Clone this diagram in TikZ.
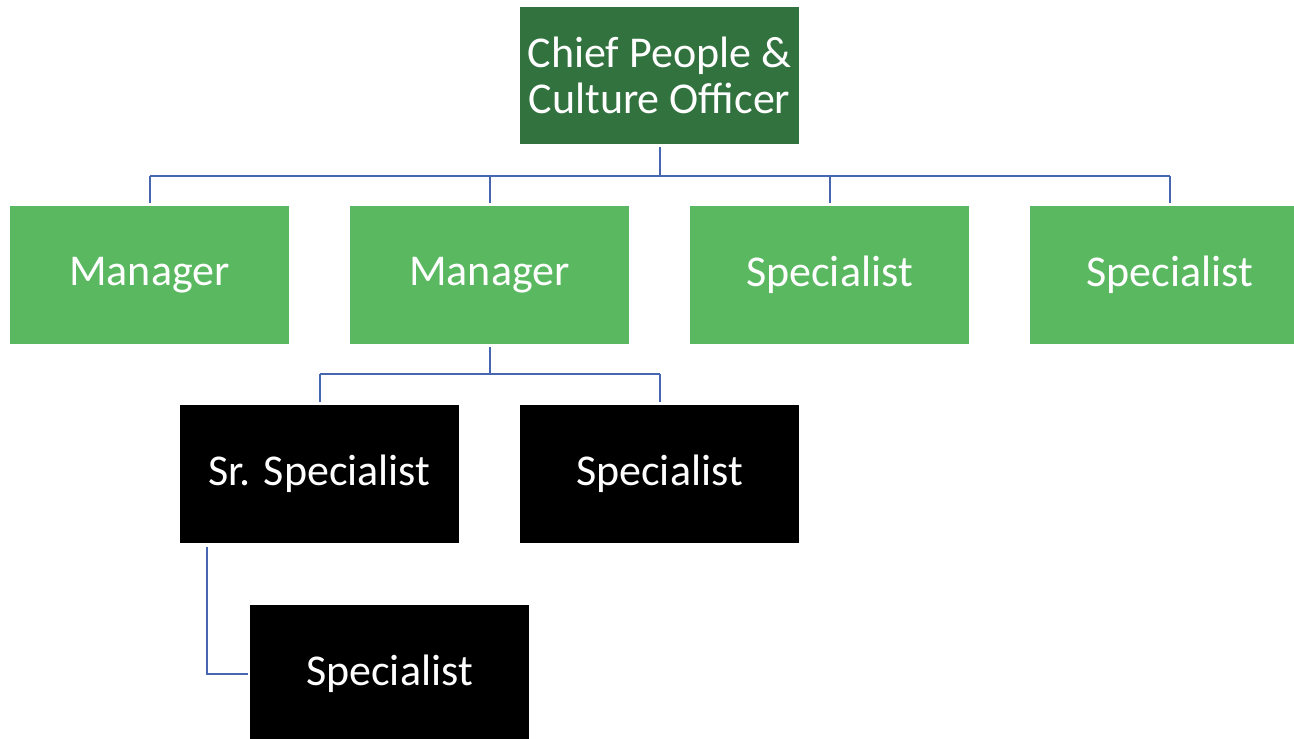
\documentclass[tikz,border=0pt]{standalone}
\usepackage{fontspec}
\setmainfont{Carlito}
\definecolor{darkgreen}{RGB}{49,114,63}
\definecolor{lightgreen}{RGB}{90,184,96}
\definecolor{linkblue}{RGB}{70,102,178}
\begin{document}
\begin{tikzpicture}[x=1pt,y=-1pt,
  box/.style={rectangle, minimum width=279pt, minimum height=138pt, inner sep=0pt,
    text=white, align=center, font=\fontsize{44}{46}\selectfont},
  topbox/.style={box, fill=darkgreen},
  greenbox/.style={box, fill=lightgreen},
  blackbox/.style={box, fill=black},
  conn/.style={draw=linkblue, line width=2pt}]
\useasboundingbox (0,0) rectangle (1294,739);
\clip (0,0) rectangle (1294,739);
\node[topbox, minimum height=137pt] (top) at (659.5,75.5) {Chief People \&\\Culture Officer};
\node[greenbox] (m1) at (149.5,275) {Manager};
\node[greenbox] (m2) at (489.5,275) {Manager};
\node[greenbox] (s1) at (829.5,275) {Specialist};
\node[greenbox] (s2) at (1169.5,275) {Specialist};
\node[blackbox] (sr) at (319.5,474) {Sr. Specialist};
\node[blackbox] (s3) at (659.5,474) {Specialist};
\node[blackbox] (s4) at (389.5,674) {Specialist};
\coordinate (bus1) at (0,176);
\coordinate (bus2) at (0,374);
\draw[conn, shorten <=3pt] (top.south) -- (top.south |- bus1);
\draw[conn] (m1.north |- bus1) -- (s2.north |- bus1);
\foreach \n in {m1,m2,s1,s2}{
  \draw[conn, shorten >=3pt] (\n.north |- bus1) -- (\n.north);
}
\draw[conn, shorten <=3pt] (m2.south) -- (m2.south |- bus2);
\draw[conn] (sr.north |- bus2) -- (s3.north |- bus2);
\foreach \n in {sr,s3}{
  \draw[conn, shorten >=3pt] (\n.north |- bus2) -- (\n.north);
}
\draw[conn, shorten <=4pt, shorten >=2pt] ([xshift=-113pt]sr.south) |- (s4.west);
\end{tikzpicture}
\end{document}
